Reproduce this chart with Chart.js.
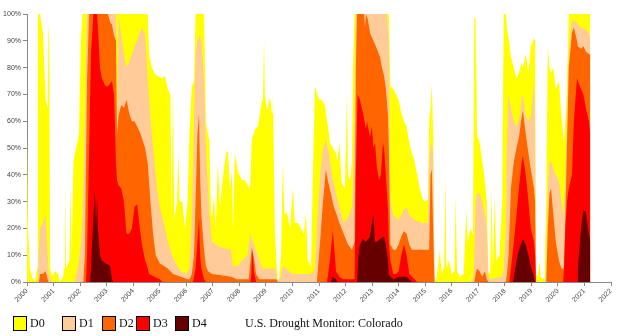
<!DOCTYPE html>
<html>
<head>
<meta charset="utf-8">
<script src="https://cdn.jsdelivr.net/npm/chart.js@4/dist/chart.umd.min.js"></script>
<style>
  body { margin: 0; background: #fff; }
  #wrap { position: relative; width: 624px; height: 336px; }
  #key { position: absolute; left: 0; top: 315px; width: 624px; height: 18px;
         font-family: "Liberation Serif", "Times New Roman", serif; font-size: 12px; color: #111; }
  .box { position: absolute; top: 1px; width: 12px; height: 13px; border: 1px solid #000; }
  .lab { position: absolute; top: 1px; line-height: 15px; }
</style>
</head>
<body>
<div id="wrap">
  <canvas id="drought" width="624" height="336"></canvas>
  <div id="key"></div>
</div>
<script>
// percent of Colorado area in each category or worse, [year, percent]
var d0 = [
  [2000.00,55],[2000.04,20],[2000.11,5],[2000.19,2],[2000.30,0],[2000.38,5],[2000.41,100],[2000.49,100],
  [2000.60,93],[2000.70,68],[2000.78,65],[2000.81,97],[2000.84,90],[2000.87,5],[2000.94,2],[2001.05,4],
  [2001.17,3],[2001.24,0],[2001.36,2],[2001.40,5],[2001.43,38],[2001.47,5],[2001.60,8],[2001.64,36],
  [2001.68,10],[2001.75,45],[2001.85,50],[2001.96,55],[2002.03,90],[2002.09,100],[2004.55,100],[2004.60,85],
  [2004.70,80],[2004.80,78],[2004.90,77],[2005.10,76],[2005.20,77],[2005.30,72],[2005.40,70],[2005.45,25],
  [2005.50,72],[2005.55,23],[2005.65,30],[2005.70,48],[2005.75,30],[2005.85,30],[2005.95,20],[2006.05,30],
  [2006.12,55],[2006.21,73],[2006.29,75],[2006.35,100],[2006.67,100],[2006.74,60],[2006.82,55],[2006.87,53],
  [2006.93,27],[2006.97,24],[2007.04,32],[2007.11,20],[2007.19,45],[2007.27,28],[2007.38,39],[2007.50,48],
  [2007.57,49],[2007.64,35],[2007.72,41],[2007.76,19],[2007.83,48],[2007.95,41],[2008.10,38],[2008.21,38],
  [2008.32,36],[2008.40,35],[2008.47,53],[2008.59,57],[2008.70,58],[2008.81,65],[2008.89,69],[2008.93,91],
  [2008.96,70],[2009.04,64],[2009.15,69],[2009.23,63],[2009.26,72],[2009.34,18],[2009.41,6],[2009.45,0],
  [2009.51,2],[2009.57,10],[2009.64,45],[2009.70,25],[2009.79,26],[2009.91,20],[2010.02,35],[2010.09,22],
  [2010.21,22],[2010.32,20],[2010.43,18],[2010.51,26],[2010.58,8],[2010.70,6],[2010.77,40],[2010.85,73],
  [2011.00,68],[2011.11,68],[2011.22,66],[2011.30,60],[2011.34,58],[2011.41,52],[2011.52,50],[2011.64,48],
  [2011.69,45],[2011.77,52],[2011.85,37],[2011.98,35],[2012.05,70],[2012.09,40],[2012.17,38],[2012.24,45],
  [2012.28,80],[2012.34,100],[2013.63,100],[2013.69,73],[2013.80,72],[2013.90,70],[2014.00,68],[2014.10,63],
  [2014.20,60],[2014.30,58],[2014.40,52],[2014.50,48],[2014.60,45],[2014.70,40],[2014.80,35],[2014.90,31],
  [2015.00,30],[2015.10,31],[2015.15,60],[2015.20,65],[2015.25,74],[2015.30,55],[2015.35,2],[2015.40,0],
  [2015.45,3],[2015.55,12],[2015.62,3],[2015.72,6],[2015.76,40],[2015.80,5],[2015.90,8],[2016.00,3],
  [2016.10,4],[2016.15,32],[2016.20,4],[2016.30,2],[2016.45,3],[2016.55,27],[2016.60,15],[2016.70,20],
  [2016.80,18],[2016.85,99],[2016.90,98],[2016.95,55],[2017.05,52],[2017.15,45],[2017.25,38],[2017.32,30],
  [2017.38,4],[2017.45,3],[2017.50,35],[2017.55,5],[2017.62,32],[2017.68,8],[2017.80,10],[2017.90,30],
  [2017.96,100],[2018.04,100],[2018.08,95],[2018.14,91],[2018.23,84],[2018.34,80],[2018.44,76],[2018.53,78],
  [2018.64,82],[2018.68,80],[2018.79,85],[2018.89,78],[2018.98,88],[2019.10,91],[2019.14,90],[2019.17,3],
  [2019.24,2],[2019.30,8],[2019.34,2],[2019.50,1],[2019.56,30],[2019.62,88],[2019.68,80],[2019.74,78],
  [2019.83,80],[2019.92,72],[2020.04,75],[2020.13,62],[2020.23,52],[2020.28,60],[2020.34,70],[2020.41,100],
  [2021.22,100]
];
var d1 = [
  [2000.00,0],[2000.38,0],[2000.41,5],[2000.49,20],[2000.60,22],[2000.70,25],[2000.78,10],[2000.81,3],
  [2000.87,2],[2000.94,0],[2001.80,0],[2001.85,2],[2001.96,8],[2002.03,15],[2002.09,25],[2002.18,60],
  [2002.26,100],[2003.35,100],[2003.39,55],[2003.45,100],[2003.55,92],[2003.65,85],[2003.75,80],[2003.85,82],
  [2003.95,85],[2004.05,88],[2004.15,90],[2004.25,93],[2004.35,95],[2004.45,92],[2004.55,75],[2004.70,55],
  [2004.80,45],[2004.90,35],[2005.00,28],[2005.10,24],[2005.20,20],[2005.30,15],[2005.40,12],[2005.50,9],
  [2005.60,7],[2005.80,4],[2006.00,3],[2006.12,5],[2006.21,25],[2006.29,60],[2006.35,85],[2006.42,90],
  [2006.48,92],[2006.57,90],[2006.67,75],[2006.74,50],[2006.82,35],[2006.87,25],[2006.93,18],[2006.97,15],
  [2007.27,13],[2007.68,12],[2007.76,6],[2007.95,6],[2008.10,8],[2008.32,10],[2008.40,18],[2008.55,14],
  [2008.70,10],[2008.85,5],[2009.34,5],[2009.41,2],[2009.45,0],[2009.55,2],[2009.64,6],[2010.00,3],
  [2010.70,3],[2010.80,4],[2010.85,5],[2010.92,20],[2011.04,40],[2011.15,50],[2011.26,53],[2011.37,48],
  [2011.49,40],[2011.64,33],[2011.77,28],[2011.93,22],[2012.09,24],[2012.24,28],[2012.34,60],[2012.39,100],
  [2013.55,100],[2013.60,95],[2013.63,90],[2013.69,30],[2013.80,25],[2013.90,24],[2014.00,23],[2014.10,25],
  [2014.20,27],[2014.30,28],[2014.40,25],[2014.50,24],[2014.60,23],[2014.90,22],[2015.10,22],[2015.15,45],
  [2015.20,50],[2015.25,52],[2015.30,48],[2015.35,1],[2015.40,0],[2016.78,0],[2016.82,3],[2016.85,10],
  [2016.90,30],[2016.95,33],[2017.05,33],[2017.15,30],[2017.25,25],[2017.32,20],[2017.38,2],[2017.45,1],
  [2017.90,2],[2017.96,5],[2018.04,20],[2018.08,50],[2018.14,70],[2018.23,65],[2018.34,60],[2018.44,58],
  [2018.53,60],[2018.64,68],[2018.68,70],[2018.79,62],[2018.89,60],[2018.98,62],[2019.10,75],[2019.14,60],
  [2019.17,1],[2019.24,0],[2019.52,0],[2019.56,5],[2019.62,35],[2019.68,45],[2019.74,45],[2019.83,42],
  [2019.92,40],[2020.04,38],[2020.13,30],[2020.23,25],[2020.28,40],[2020.34,60],[2020.41,85],[2020.53,98],
  [2020.60,97],[2020.72,97],[2020.75,96],[2020.87,95],[2021.05,94],[2021.17,93],[2021.22,90]
];
var d2 = [
  [2000.00,0],[2000.45,0],[2000.49,3],[2000.60,3],[2000.70,4],[2000.78,1],[2000.81,0],[2002.12,0],
  [2002.18,10],[2002.26,75],[2002.34,100],[2003.05,100],[2003.13,97],[2003.20,96],[2003.28,92],[2003.35,90],
  [2003.39,55],[2003.45,62],[2003.55,66],[2003.65,65],[2003.75,68],[2003.85,63],[2003.95,60],[2004.05,60],
  [2004.15,58],[2004.25,56],[2004.35,53],[2004.45,50],[2004.55,44],[2004.65,30],[2004.75,18],[2004.85,10],
  [2005.00,7],[2005.30,5],[2005.50,3],[2005.80,2],[2006.05,1],[2006.12,1],[2006.21,3],[2006.29,10],
  [2006.35,30],[2006.42,55],[2006.48,63],[2006.52,40],[2006.57,25],[2006.67,12],[2006.74,6],[2006.82,4],
  [2006.97,3],[2007.70,2],[2007.90,1],[2008.35,1],[2008.40,6],[2008.47,13],[2008.55,9],[2008.63,3],
  [2008.75,1],[2009.40,1],[2009.45,0],[2010.92,0],[2011.04,15],[2011.15,30],[2011.26,42],[2011.33,38],
  [2011.45,33],[2011.56,28],[2011.67,25],[2011.77,22],[2011.93,18],[2012.09,14],[2012.24,12],[2012.34,15],
  [2012.39,80],[2012.43,100],[2012.70,100],[2012.73,95],[2012.77,100],[2012.84,98],[2012.92,93],[2013.05,90],
  [2013.18,87],[2013.30,84],[2013.37,80],[2013.45,77],[2013.52,72],[2013.60,62],[2013.63,50],[2013.69,14],
  [2013.80,12],[2013.90,12],[2014.00,14],[2014.10,17],[2014.20,19],[2014.30,18],[2014.40,14],[2014.50,12],
  [2015.10,12],[2015.15,12],[2015.20,40],[2015.25,42],[2015.30,20],[2015.35,0],[2016.85,0],[2016.90,3],
  [2016.95,5],[2017.05,4],[2017.15,2],[2017.25,4],[2017.32,1],[2017.38,0],[2018.04,0],[2018.08,3],
  [2018.14,10],[2018.23,35],[2018.34,45],[2018.44,50],[2018.53,54],[2018.64,62],[2018.68,64],[2018.79,55],
  [2018.89,48],[2018.98,42],[2019.10,35],[2019.14,30],[2019.17,0],[2019.56,0],[2019.62,20],[2019.68,33],
  [2019.74,35],[2019.83,25],[2019.92,15],[2020.04,8],[2020.13,5],[2020.23,5],[2020.28,25],[2020.34,50],
  [2020.41,80],[2020.53,93],[2020.60,95],[2020.72,90],[2020.75,88],[2020.87,87],[2020.96,88],[2021.05,86],
  [2021.17,85],[2021.22,85]
];
var d3 = [
  [2000.00,0],[2002.22,0],[2002.26,10],[2002.34,50],[2002.41,85],[2002.50,100],[2002.64,100],[2002.67,95],
  [2002.75,80],[2002.82,76],[2002.96,73],[2003.05,73],[2003.13,74],[2003.20,75],[2003.28,70],[2003.35,45],
  [2003.39,38],[2003.45,36],[2003.55,35],[2003.65,30],[2003.75,18],[2003.85,18],[2003.95,20],[2004.05,28],
  [2004.15,29],[2004.25,20],[2004.35,13],[2004.45,8],[2004.55,5],[2004.60,3],[2004.80,2],[2005.00,1],
  [2005.10,0],[2006.25,0],[2006.29,2],[2006.35,5],[2006.42,15],[2006.48,24],[2006.52,10],[2006.57,5],
  [2006.67,1],[2006.74,0],[2008.42,0],[2008.45,3],[2008.49,12],[2008.55,4],[2008.63,0],[2011.30,0],
  [2011.41,8],[2011.52,19],[2011.58,12],[2011.64,4],[2011.77,2],[2011.90,1],[2012.34,1],[2012.39,40],
  [2012.45,70],[2012.54,68],[2012.66,63],[2012.77,57],[2012.81,60],[2012.92,54],[2012.99,58],[2013.05,50],
  [2013.11,52],[2013.18,43],[2013.26,38],[2013.33,40],[2013.41,52],[2013.45,50],[2013.52,40],[2013.60,27],
  [2013.63,15],[2013.69,8],[2013.80,3],[2013.90,3],[2014.00,4],[2014.10,10],[2014.20,14],[2014.30,10],
  [2014.40,3],[2014.50,2],[2014.60,1],[2014.70,0],[2018.17,0],[2018.23,5],[2018.34,15],[2018.44,25],
  [2018.53,35],[2018.64,45],[2018.68,47],[2018.79,40],[2018.89,30],[2018.98,20],[2019.10,15],[2019.14,10],
  [2019.17,0],[2020.20,0],[2020.23,5],[2020.28,20],[2020.34,30],[2020.41,35],[2020.53,40],[2020.60,60],
  [2020.72,76],[2020.75,75],[2020.87,72],[2020.96,70],[2021.05,65],[2021.17,60],[2021.22,55]
];
var d4 = [
  [2000.00,0],[2002.37,0],[2002.41,5],[2002.50,25],[2002.56,34],[2002.60,20],[2002.64,32],[2002.67,20],
  [2002.75,10],[2002.82,8],[2002.96,7],[2003.13,6],[2003.20,1],[2003.25,0],[2011.45,0],[2011.49,2],
  [2011.64,1],[2011.70,0],[2012.43,0],[2012.49,10],[2012.54,14],[2012.66,16],[2012.77,15],[2012.92,17],
  [2012.99,22],[2013.05,25],[2013.11,15],[2013.18,15],[2013.30,16],[2013.45,17],[2013.52,14],[2013.60,8],
  [2013.63,3],[2013.69,2],[2013.80,1],[2014.00,2],[2014.30,2],[2014.40,1],[2014.50,0],[2018.30,0],
  [2018.34,2],[2018.44,8],[2018.53,12],[2018.64,15],[2018.68,16],[2018.79,14],[2018.89,10],[2018.98,6],
  [2019.10,2],[2019.14,0],[2020.72,0],[2020.75,5],[2020.87,20],[2020.96,27],[2021.05,26],[2021.17,18],
  [2021.22,15]
];

var categories = ['D0', 'D1', 'D2', 'D3', 'D4'];
var colors = ['#ffff00', '#ffcc99', '#ff6600', '#ff0000', '#660000'];
var series = [d0, d1, d2, d3, d4];
var firstYear = 2000, lastYear = 2022;

var datasets = series.map(function (pts, i) {
  return {
    label: categories[i],
    data: pts,
    backgroundColor: colors[i],
    borderColor: 'rgba(0,0,0,0)',
    borderWidth: 0,
    pointRadius: 0,
    tension: 0,
    fill: 'origin',
    order: 5 - i   // worst category painted last
  };
});

var tickFont = { family: '"Liberation Sans", Arial, sans-serif', size: 7 };

new Chart(document.getElementById('drought').getContext('2d'), {
  type: 'line',
  data: { datasets: datasets },
  options: {
    responsive: false,
    animation: false,
    layout: { padding: { top: 14, right: 13, left: 0, bottom: 0 } },
    plugins: { legend: { display: false }, tooltip: { enabled: false } },
    scales: {
      x: {
        type: 'linear',
        min: firstYear,
        max: lastYear,
        afterFit: function (s) { s.height = 54; },
        ticks: {
          stepSize: 1,
          autoSkip: false,
          minRotation: 45,
          maxRotation: 45,
          padding: 1,
          color: '#444',
          font: tickFont,
          callback: function (v) { return String(v); }
        },
        grid: { display: true, drawOnChartArea: false, tickLength: 4, color: '#888' },
        border: { color: '#888' }
      },
      y: {
        min: 0,
        max: 100,
        afterFit: function (s) { s.width = 27; },
        ticks: {
          stepSize: 10,
          padding: 2,
          color: '#444',
          font: tickFont,
          callback: function (v) { return v + '%'; }
        },
        grid: { display: true, drawOnChartArea: false, tickLength: 4, color: '#888' },
        border: { color: '#888' }
      }
    }
  }
});

// key under the plot
var key = document.getElementById('key');
var boxLeft = [13, 62, 102, 136, 175];
categories.forEach(function (c, i) {
  var b = document.createElement('div');
  b.className = 'box';
  b.style.left = boxLeft[i] + 'px';
  b.style.background = colors[i];
  key.appendChild(b);
  var t = document.createElement('div');
  t.className = 'lab';
  t.style.left = (boxLeft[i] + 17) + 'px';
  t.textContent = c;
  key.appendChild(t);
});
var title = document.createElement('div');
title.className = 'lab';
title.style.left = '245px';
title.textContent = 'U.S. Drought Monitor: Colorado';
key.appendChild(title);
</script>
</body>
</html>
